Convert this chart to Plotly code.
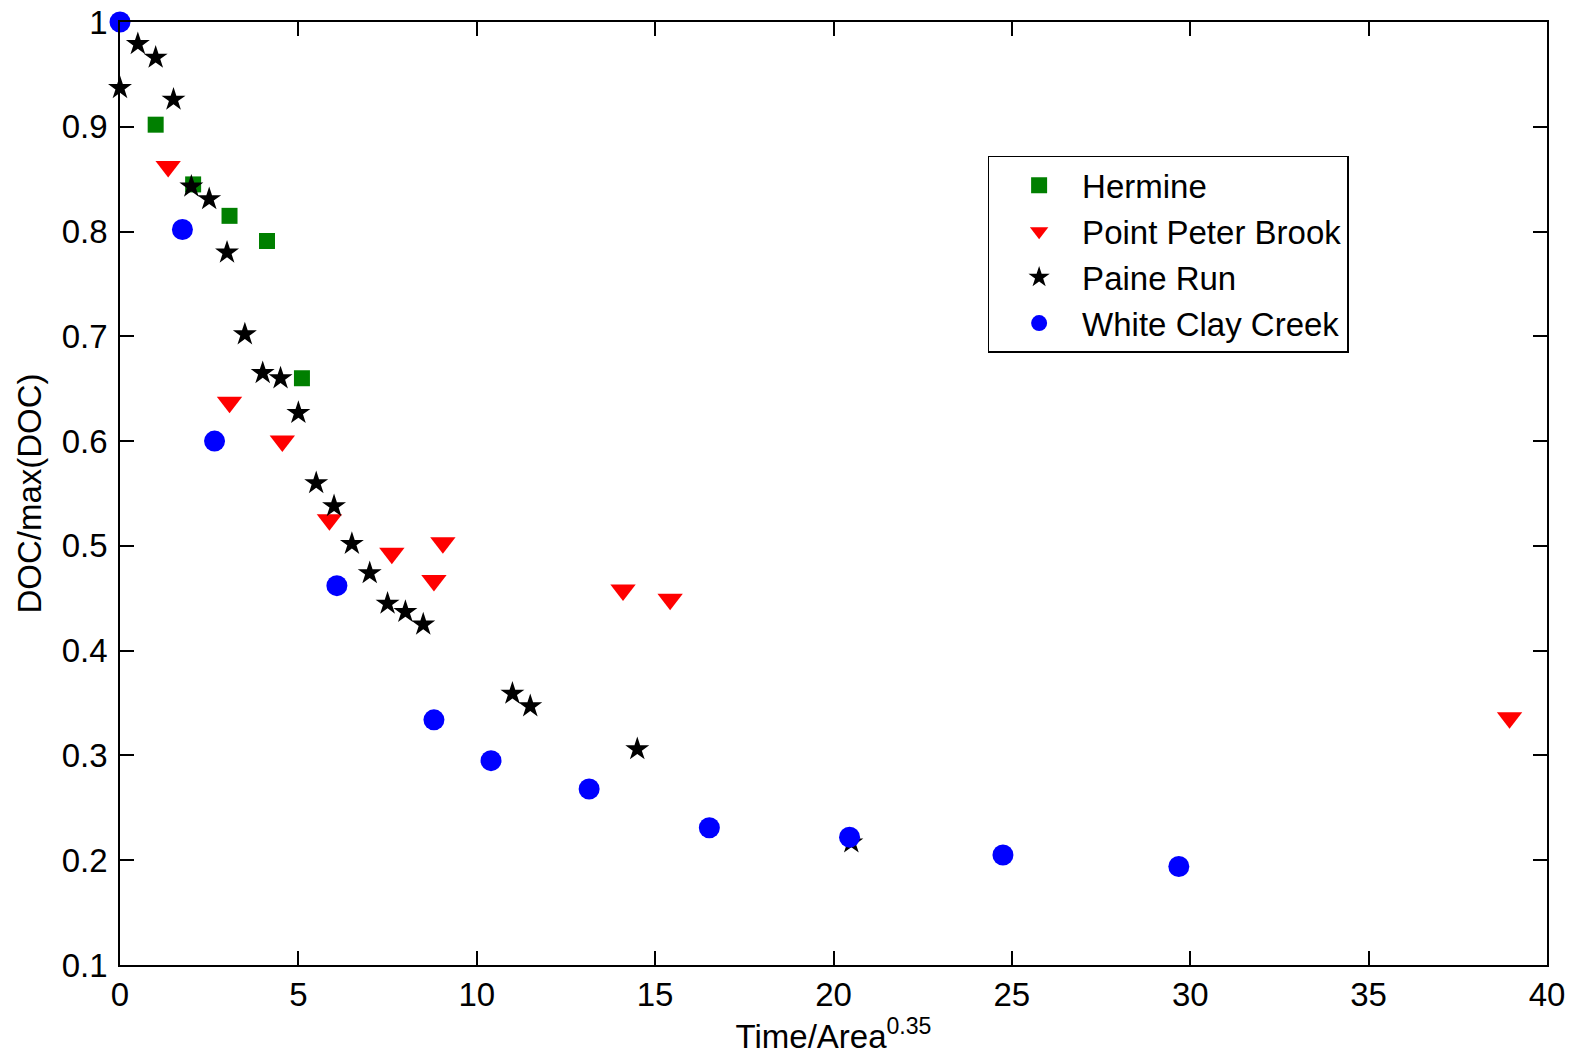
import plotly.graph_objects as go

# Normalised DOC vs. scaled time for four catchments
hermine_x = [1.0, 2.05, 3.07, 4.12, 5.1]
hermine_y = [0.902, 0.845, 0.815, 0.791, 0.660]

ppb_x = [1.35, 3.07, 4.55, 5.87, 7.62, 8.8, 9.05, 14.1, 15.42, 38.95]
ppb_y = [0.862, 0.637, 0.600, 0.525, 0.493, 0.467, 0.503, 0.458, 0.449, 0.336]

paine_x = [0, 0.5, 1.0, 1.5, 2.0, 2.5, 3.0, 3.5, 4.0, 4.5, 5.0, 5.5, 6.0, 6.5,
           7.0, 7.5, 8.0, 8.5, 11.0, 11.5, 14.5, 20.5]
paine_y = [0.937, 0.979, 0.966, 0.926, 0.843, 0.831, 0.780, 0.702, 0.665, 0.660,
           0.627, 0.560, 0.538, 0.502, 0.474, 0.445, 0.437, 0.425, 0.359, 0.347,
           0.306, 0.217]

wcc_x = [0, 1.75, 2.65, 6.08, 8.8, 10.4, 13.15, 16.52, 20.45, 24.75, 29.68]
wcc_y = [1.0, 0.802, 0.600, 0.462, 0.334, 0.295, 0.268, 0.231, 0.222, 0.205, 0.194]

x_ticks = [0, 5, 10, 15, 20, 25, 30, 35, 40]
y_ticks = [0.1, 0.2, 0.3, 0.4, 0.5, 0.6, 0.7, 0.8, 0.9, 1.0]
y_tick_text = ["0.1", "0.2", "0.3", "0.4", "0.5", "0.6", "0.7", "0.8", "0.9", "1"]

FONT = "Liberation Sans, Arial, sans-serif"

fig = go.Figure()
fig.add_trace(go.Scatter(x=hermine_x, y=hermine_y, mode="markers", name="Hermine",
                         cliponaxis=False,
                         marker=dict(symbol="square", size=16, color="#007f00")))
fig.add_trace(go.Scatter(x=ppb_x, y=ppb_y, mode="markers", name="Point Peter Brook",
                         cliponaxis=False,
                         marker=dict(symbol="triangle-down", size=22, color="#ff0000")))
fig.add_trace(go.Scatter(x=paine_x, y=paine_y, mode="markers", name="Paine Run",
                         cliponaxis=False,
                         marker=dict(symbol="star", size=18, color="#000000")))
fig.add_trace(go.Scatter(x=wcc_x, y=wcc_y, mode="markers", name="White Clay Creek",
                         cliponaxis=False,
                         marker=dict(symbol="circle", size=21, color="#0000ff")))

axis_common = dict(
    showline=True, linecolor="black", linewidth=1.5, mirror="ticks",
    ticks="inside", ticklen=14, tickwidth=1.5, tickcolor="black",
    showgrid=False, zeroline=False, automargin=False,
    tickfont=dict(family=FONT, size=33, color="black"),
)

fig.update_layout(
    width=1577, height=1060,
    paper_bgcolor="white", plot_bgcolor="white",
    margin=dict(l=120, r=30, t=22, b=95),
    font=dict(family=FONT, color="black"),
    xaxis=dict(range=[0, 40], tickvals=x_ticks, ticktext=[str(v) for v in x_ticks],
               title=dict(text="Time/Area<sup>0.35</sup>", font=dict(family=FONT, size=33),
                          standoff=7),
               **axis_common),
    yaxis=dict(range=[0.1, 1.0], tickvals=y_ticks, ticktext=y_tick_text,
               ticklabelstandoff=4,
               title=dict(text="DOC/max(DOC)", font=dict(family=FONT, size=33),
                          standoff=10),
               **axis_common),
    legend=dict(x=0.608, y=0.858, xanchor="left", yanchor="top",
                bgcolor="white", bordercolor="black", borderwidth=1.5,
                font=dict(family=FONT, size=33, color="black"),
                itemwidth=76, indentation=7, tracegroupgap=0),
    showlegend=True,
)

fig.write_html("out.html")
